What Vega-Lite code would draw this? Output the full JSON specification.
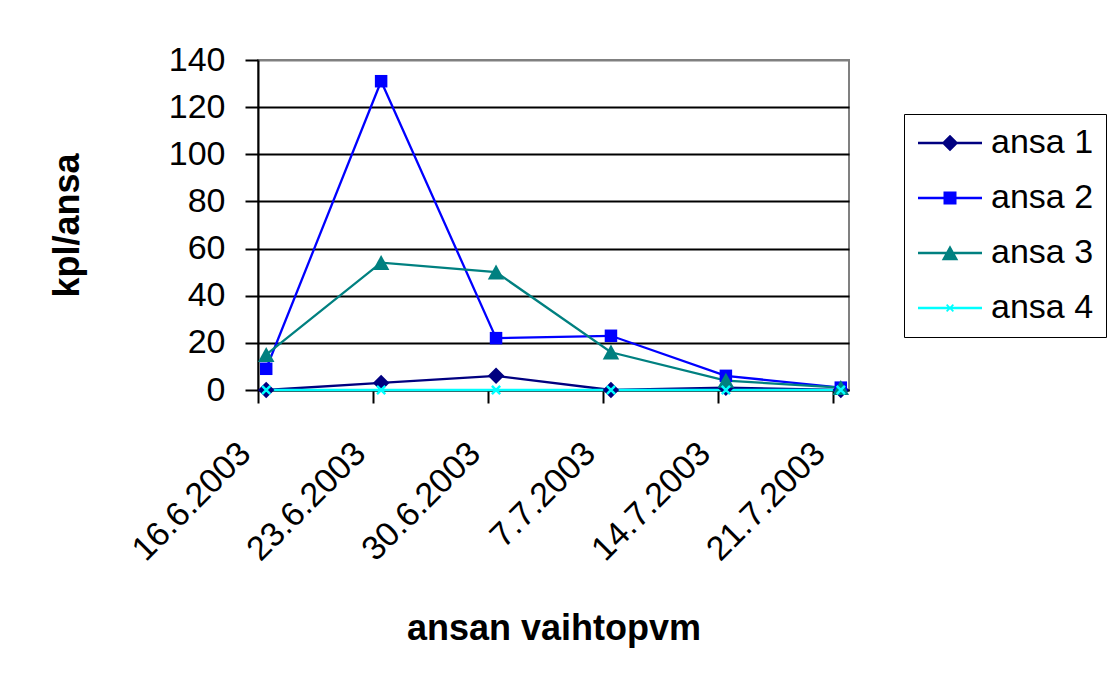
{
  "$schema": "https://vega.github.io/schema/vega-lite/v6.json",
  "width": 591,
  "height": 330,
  "autosize": {"type": "none"},
  "padding": {"left": 258, "top": 60, "right": 260, "bottom": 292},
  "background": "white",
  "config": {
    "font": "Liberation Sans",
    "view": {"stroke": "#808080", "strokeWidth": 2}
  },
  "data": {
    "values": [
      {"series": "ansa 1", "date": "2003-06-16", "kpl": 0},
      {"series": "ansa 1", "date": "2003-06-23", "kpl": 3},
      {"series": "ansa 1", "date": "2003-06-30", "kpl": 6},
      {"series": "ansa 1", "date": "2003-07-07", "kpl": 0},
      {"series": "ansa 1", "date": "2003-07-14", "kpl": 1},
      {"series": "ansa 1", "date": "2003-07-21", "kpl": 0},
      {"series": "ansa 2", "date": "2003-06-16", "kpl": 9},
      {"series": "ansa 2", "date": "2003-06-23", "kpl": 131},
      {"series": "ansa 2", "date": "2003-06-30", "kpl": 22},
      {"series": "ansa 2", "date": "2003-07-07", "kpl": 23},
      {"series": "ansa 2", "date": "2003-07-14", "kpl": 6},
      {"series": "ansa 2", "date": "2003-07-21", "kpl": 1},
      {"series": "ansa 3", "date": "2003-06-16", "kpl": 15},
      {"series": "ansa 3", "date": "2003-06-23", "kpl": 54},
      {"series": "ansa 3", "date": "2003-06-30", "kpl": 50},
      {"series": "ansa 3", "date": "2003-07-07", "kpl": 16},
      {"series": "ansa 3", "date": "2003-07-14", "kpl": 4},
      {"series": "ansa 3", "date": "2003-07-21", "kpl": 1},
      {"series": "ansa 4", "date": "2003-06-16", "kpl": 0},
      {"series": "ansa 4", "date": "2003-06-23", "kpl": 0},
      {"series": "ansa 4", "date": "2003-06-30", "kpl": 0},
      {"series": "ansa 4", "date": "2003-07-07", "kpl": 0},
      {"series": "ansa 4", "date": "2003-07-14", "kpl": 0},
      {"series": "ansa 4", "date": "2003-07-21", "kpl": 0}
    ]
  },
  "encoding": {
    "x": {
      "field": "date",
      "type": "temporal",
      "scale": {
        "type": "utc",
        "domain": [
          {"year": 2003, "month": 6, "date": 15, "hours": 12, "utc": true},
          {"year": 2003, "month": 7, "date": 21, "hours": 12, "utc": true}
        ]
      },
      "axis": {
        "title": "ansan vaihtopvm",
        "titleFont": "Liberation Sans",
        "titleFontWeight": "bold",
        "titleFontSize": 36,
        "titleColor": "black",
        "titleY": 238,
        "titleBaseline": "middle",
        "values": [
          {"year": 2003, "month": 6, "date": 15, "hours": 12, "utc": true},
          {"year": 2003, "month": 6, "date": 22, "hours": 12, "utc": true},
          {"year": 2003, "month": 6, "date": 29, "hours": 12, "utc": true},
          {"year": 2003, "month": 7, "date": 6, "hours": 12, "utc": true},
          {"year": 2003, "month": 7, "date": 13, "hours": 12, "utc": true},
          {"year": 2003, "month": 7, "date": 20, "hours": 12, "utc": true}
        ],
        "labelExpr": "utcFormat(datum.value + 43200000, '%-d.%-m.%Y')",
        "labelAngle": -45,
        "labelFontSize": 34,
        "labelColor": "black",
        "labelPadding": 33,
        "labelOffset": -25,
        "labelOverlap": false,
        "labelFlush": false,
        "labelBound": false,
        "tickSize": 13,
        "tickWidth": 2,
        "tickColor": "black",
        "domainColor": "black",
        "domainWidth": 2,
        "grid": false
      }
    },
    "y": {
      "field": "kpl",
      "type": "quantitative",
      "scale": {"domain": [0, 140], "nice": false},
      "axis": {
        "title": "kpl/ansa",
        "titleFont": "Liberation Sans",
        "titleFontWeight": "bold",
        "titleFontSize": 36,
        "titleColor": "black",
        "titleX": -191,
        "titleY": 165,
        "titleBaseline": "middle",
        "values": [0, 20, 40, 60, 80, 100, 120, 140],
        "labelFontSize": 34,
        "labelColor": "black",
        "labelPadding": 20,
        "tickSize": 13,
        "tickWidth": 2,
        "tickColor": "black",
        "domainColor": "black",
        "domainWidth": 2,
        "grid": true,
        "gridColor": {"condition": {"test": "datum.value === 140", "value": "#808080"}, "value": "black"},
        "gridWidth": 2,
        "gridOpacity": 1
      }
    }
  },
  "layer": [
    {
      "mark": {"type": "point", "filled": true, "opacity": 0, "size": 100},
      "encoding": {
        "fill": {
          "field": "series",
          "type": "nominal",
          "scale": {"range": ["#000080", "#0000FF", "#008080", "#00FFFF"]},
          "legend": {
            "title": null,
            "orient": "none",
            "legendX": 646,
            "legendY": 54,
            "labelFont": "Liberation Sans",
            "labelFontSize": 34,
            "labelColor": "black",
            "labelLimit": 400,
            "padding": 12,
            "rowPadding": 21,
            "strokeColor": "black",
            "fillColor": "white",
            "cornerRadius": 0,
            "symbolSize": 100,
            "symbolOffset": 17,
            "labelOffset": 24,
            "symbolOpacity": 1,
            "symbolStrokeWidth": 0
          }
        },
        "shape": {
          "field": "series",
          "type": "nominal",
          "scale": {
            "range": [
              "M-6.4,-0.23H6.4V0.23H-6.4Z M0,-1.65L1.65,0L0,1.65L-1.65,0Z",
              "M-6.4,-0.23H6.4V0.23H-6.4Z M-1.3,-1.3H1.3V1.3H-1.3Z",
              "M-6.4,-0.23H6.4V0.23H-6.4Z M0,-1.55L1.65,1.45H-1.65Z",
              "M-6.4,-0.23H6.4V0.23H-6.4Z M-0.8,-0.55L-0.55,-0.8L0.8,0.55L0.55,0.8Z M0.55,-0.8L0.8,-0.55L-0.55,0.8L-0.8,0.55Z"
            ]
          },
          "legend": {
            "title": null,
            "orient": "none",
            "legendX": 646,
            "legendY": 54,
            "labelFont": "Liberation Sans",
            "labelFontSize": 34,
            "labelColor": "black",
            "labelLimit": 400,
            "padding": 12,
            "rowPadding": 21,
            "strokeColor": "black",
            "fillColor": "white",
            "cornerRadius": 0,
            "symbolSize": 100,
            "symbolOffset": 17,
            "labelOffset": 24,
            "symbolOpacity": 1,
            "symbolStrokeWidth": 0
          }
        }
      }
    },
    {
      "mark": {"type": "line", "strokeWidth": 2.3},
      "encoding": {
        "color": {
          "field": "series",
          "type": "nominal",
          "scale": {"range": ["#000080", "#0000FF", "#008080", "#00FFFF"]},
          "legend": null
        }
      }
    },
    {
      "mark": {"type": "point", "filled": true, "opacity": 1, "size": 100},
      "encoding": {
        "color": {"field": "series", "type": "nominal", "legend": null},
        "shape": {
          "condition": [
            {"test": "datum.series === 'ansa 1'", "value": "M0,-1.65L1.65,0L0,1.65L-1.65,0Z"},
            {"test": "datum.series === 'ansa 2'", "value": "M-1.25,-1.25H1.25V1.25H-1.25Z"},
            {"test": "datum.series === 'ansa 3'", "value": "M0,-1.55L1.65,1.45H-1.65Z"}
          ],
          "value": "M-1,-0.65L-0.65,-1L1,0.65L0.65,1Z M0.65,-1L1,-0.65L-0.65,1L-1,0.65Z"
        }
      }
    }
  ]
}
